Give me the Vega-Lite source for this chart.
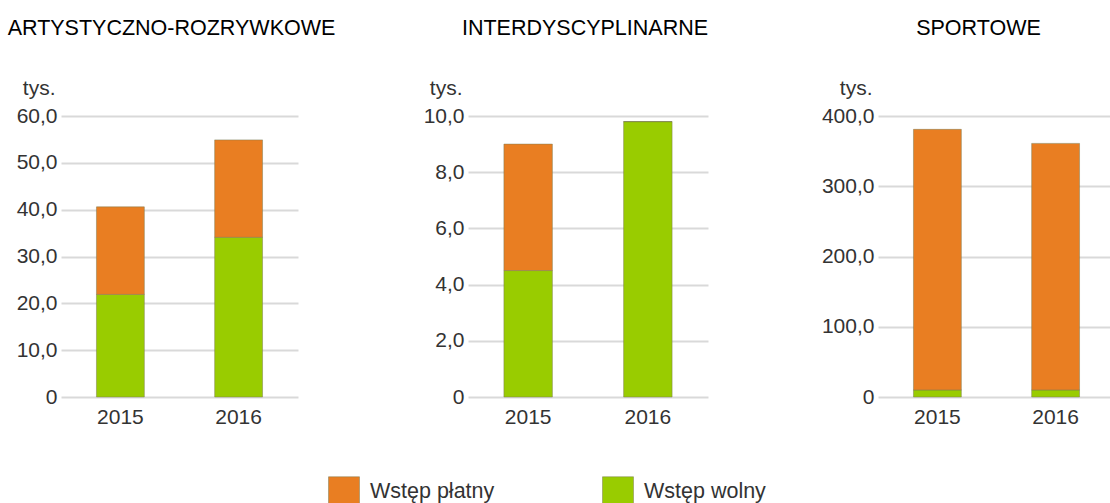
{
  "$schema": "https://vega.github.io/schema/vega-lite/v6.json",
  "background": "white",
  "padding": {"left": 7, "top": 17, "right": 0, "bottom": 0},
  "datasets": {
    "d": [
      {"panel": "A", "rok": "2015", "typ": "Wstęp wolny", "wartosc": 21.9},
      {"panel": "A", "rok": "2015", "typ": "Wstęp płatny", "wartosc": 18.7},
      {"panel": "A", "rok": "2016", "typ": "Wstęp wolny", "wartosc": 34.1},
      {"panel": "A", "rok": "2016", "typ": "Wstęp płatny", "wartosc": 20.8},
      {"panel": "I", "rok": "2015", "typ": "Wstęp wolny", "wartosc": 4.5},
      {"panel": "I", "rok": "2015", "typ": "Wstęp płatny", "wartosc": 4.5},
      {"panel": "I", "rok": "2016", "typ": "Wstęp wolny", "wartosc": 9.8},
      {"panel": "I", "rok": "2016", "typ": "Wstęp płatny", "wartosc": 0},
      {"panel": "S", "rok": "2015", "typ": "Wstęp wolny", "wartosc": 10},
      {"panel": "S", "rok": "2015", "typ": "Wstęp płatny", "wartosc": 371},
      {"panel": "S", "rok": "2016", "typ": "Wstęp wolny", "wartosc": 10},
      {"panel": "S", "rok": "2016", "typ": "Wstęp płatny", "wartosc": 351}
    ]
  },
  "config": {
    "font": "Liberation Sans",
    "view": {"stroke": null},
    "concat": {"spacing": 170},
    "axisX": {"domain": false, "ticks": false, "labelAngle": 0, "labelPadding": 9, "labelFontSize": 21, "labelColor": "#333333", "labelFont": "Liberation Sans", "title": null, "grid": false},
    "axisY": {"domain": false, "ticks": false, "grid": true, "gridColor": "#d9d9d9", "gridWidth": 2, "labelFontSize": 21, "labelColor": "#333333", "labelPadding": 4, "labelFont": "Liberation Sans", "titleAngle": 0, "titleAlign": "right", "titleX": -6, "titleY": -22, "titleBaseline": "alphabetic", "titleFontWeight": "normal", "titleFontSize": 21, "titleColor": "#333333", "titleFont": "Liberation Sans"},
    "title": {"font": "Liberation Sans", "fontSize": 21.5, "fontWeight": "normal", "color": "#000000", "anchor": "middle", "frame": "group", "offset": 38},
    "bar": {"stroke": "#7d7d55", "strokeWidth": 0.5},
    "legend": {"orient": "none", "legendX": 267, "legendY": 360, "direction": "horizontal", "title": null, "symbolType": "square", "symbolSize": 961, "symbolStrokeWidth": 0, "symbolOpacity": 1, "labelFontSize": 21.5, "labelColor": "#333333", "labelFont": "Liberation Sans", "labelOffset": 10, "columnPadding": 106, "padding": 0, "labelLimit": 300}
  },
  "bounds": "flush",
  "hconcat": [
    {
      "width": 237, "height": 281,
      "title": {"text": "ARTYSTYCZNO-ROZRYWKOWE", "dx": -8},
      "data": {"name": "d"},
      "transform": [{"filter": "datum.panel == 'A'"}],
      "mark": {"type": "bar"},
      "encoding": {
        "x": {"field": "rok", "type": "nominal", "scale": {"paddingInner": 0.595, "paddingOuter": 0.3}},
        "y": {"field": "wartosc", "type": "quantitative", "stack": "zero", "scale": {"domain": [0, 60], "nice": false}, "axis": {"title": "tys.", "values": [0, 10, 20, 30, 40, 50, 60], "labelExpr": "datum.value == 0 ? '0' : replace(format(datum.value, '.1f'), '.', ',')"}},
        "color": {"field": "typ", "type": "nominal", "scale": {"domain": ["Wstęp płatny", "Wstęp wolny"], "range": ["#E97E22", "#99CC00"]}},
        "order": {"field": "typ", "sort": "descending"}
      }
    },
    {
      "width": 240, "height": 281,
      "title": {"text": "INTERDYSCYPLINARNE", "dx": -3},
      "data": {"name": "d"},
      "transform": [{"filter": "datum.panel == 'I'"}],
      "mark": {"type": "bar"},
      "encoding": {
        "x": {"field": "rok", "type": "nominal", "scale": {"paddingInner": 0.595, "paddingOuter": 0.3}},
        "y": {"field": "wartosc", "type": "quantitative", "stack": "zero", "scale": {"domain": [0, 10], "nice": false}, "axis": {"title": "tys.", "values": [0, 2, 4, 6, 8, 10], "labelExpr": "datum.value == 0 ? '0' : replace(format(datum.value, '.1f'), '.', ',')"}},
        "color": {"field": "typ", "type": "nominal", "scale": {"domain": ["Wstęp płatny", "Wstęp wolny"], "range": ["#E97E22", "#99CC00"]}},
        "order": {"field": "typ", "sort": "descending"}
      }
    },
    {
      "width": 237, "height": 281,
      "title": {"text": "SPORTOWE", "dx": -18},
      "data": {"name": "d"},
      "transform": [{"filter": "datum.panel == 'S'"}],
      "mark": {"type": "bar"},
      "encoding": {
        "x": {"field": "rok", "type": "nominal", "scale": {"paddingInner": 0.595, "paddingOuter": 0.3}},
        "y": {"field": "wartosc", "type": "quantitative", "stack": "zero", "scale": {"domain": [0, 400], "nice": false}, "axis": {"title": "tys.", "values": [0, 100, 200, 300, 400], "labelExpr": "datum.value == 0 ? '0' : replace(format(datum.value, '.1f'), '.', ',')"}},
        "color": {"field": "typ", "type": "nominal", "scale": {"domain": ["Wstęp płatny", "Wstęp wolny"], "range": ["#E97E22", "#99CC00"]}},
        "order": {"field": "typ", "sort": "descending"}
      }
    }
  ],
  "resolve": {"scale": {"y": "independent"}}
}
